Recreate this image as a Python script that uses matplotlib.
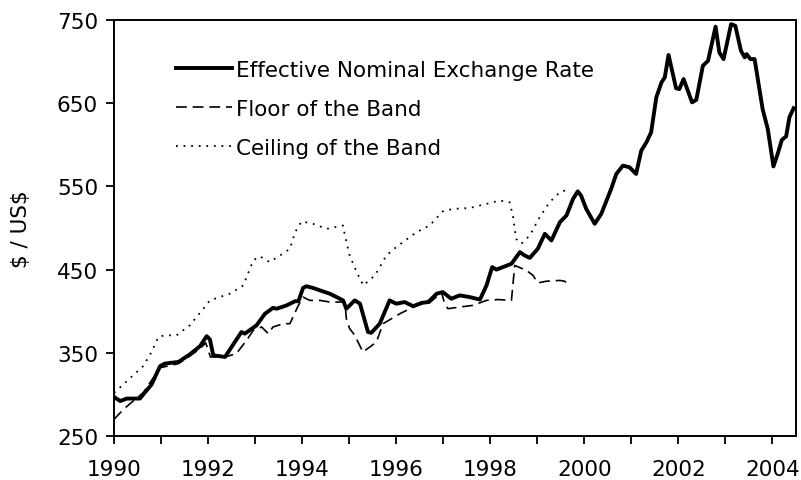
import numpy as np
import matplotlib
matplotlib.use('Agg')
import matplotlib.pyplot as plt

plt.rcParams['font.family'] = ['DejaVu Sans']

# effective nominal exchange rate (decimal year, $ per US$)
rate_t = [1990.0, 1990.13, 1990.27, 1990.55, 1990.8, 1990.98, 1991.08, 1991.37,
          1991.61, 1991.83, 1991.97, 1992.04, 1992.11, 1992.36, 1992.71, 1992.78,
          1993.03, 1993.21, 1993.38, 1993.46, 1993.67, 1993.85, 1993.92, 1994.02,
          1994.09, 1994.23, 1994.38, 1994.59, 1994.87, 1994.94, 1995.12, 1995.23,
          1995.40, 1995.47, 1995.65, 1995.86, 1996.0, 1996.18, 1996.36, 1996.54,
          1996.68, 1996.86, 1996.99, 1997.17, 1997.35, 1997.56, 1997.78, 1997.92,
          1998.04, 1998.13, 1998.27, 1998.45, 1998.63, 1998.73, 1998.84, 1999.01,
          1999.16, 1999.3, 1999.48, 1999.62, 1999.76, 1999.86, 1999.93, 2000.04,
          2000.22, 2000.36, 2000.57, 2000.68, 2000.82, 2000.96, 2001.1, 2001.21,
          2001.32, 2001.42, 2001.53, 2001.64, 2001.71, 2001.79, 2001.95, 2002.02,
          2002.11, 2002.29, 2002.38, 2002.52, 2002.63, 2002.79, 2002.87, 2002.96,
          2003.12, 2003.21, 2003.33, 2003.41, 2003.45, 2003.53, 2003.62, 2003.79,
          2003.9, 2004.02, 2004.11, 2004.2, 2004.29, 2004.36, 2004.45]
rate_v = [297, 292, 295, 295, 312, 334, 337, 339,
          348, 358, 370, 366, 347, 345, 375, 373,
          383, 397, 404, 403, 407, 412, 412, 428,
          430, 428, 425, 421, 413, 403, 413, 409,
          375, 374, 385, 413, 409, 411, 406, 410,
          411, 421, 423, 415, 419, 417, 414, 431,
          453, 450, 453, 457, 471, 467, 464, 475,
          493, 485, 507, 515, 535, 544, 539, 523,
          505, 517, 547, 565, 575, 573, 565, 593,
          603, 615, 657, 675, 681, 708, 668, 667,
          679, 651, 654, 695, 701, 742, 711, 703,
          745, 743, 713, 705, 709, 703, 703, 643,
          619, 574, 589, 606, 610, 633, 644]

# floor of the band
floor_t = [1990.0, 1990.2, 1990.45, 1990.62, 1990.98, 1991.37, 1991.61, 1991.83,
           1991.95, 1992.05, 1992.36, 1992.6, 1992.82, 1992.96, 1993.14, 1993.28,
           1993.38, 1993.6, 1993.74, 1993.92, 1994.02, 1994.16, 1994.38, 1994.59,
           1994.77, 1994.91, 1994.94, 1995.01, 1995.12, 1995.29, 1995.44, 1995.58,
           1995.72, 1995.9, 1996.08, 1996.29, 1996.5, 1996.71, 1996.89, 1996.96,
           1997.03, 1997.1, 1997.35, 1997.63, 1997.92, 1998.16, 1998.45, 1998.48,
           1998.52, 1998.77, 1998.91, 1999.01, 1999.19, 1999.48, 1999.58, 1999.69]
floor_v = [270, 282, 294, 302, 332, 337, 346, 355,
           362, 345, 345, 349, 365, 377, 381, 373,
           381, 385, 385, 407, 417, 413, 413, 411,
           411, 411, 391, 379, 371, 351, 357, 363,
           385, 391, 397, 403, 408, 410, 419, 423,
           409, 403, 405, 407, 413, 414, 413, 431,
           455, 449, 443, 434, 436, 437, 436, 432]

# ceiling of the band
ceil_t = [1990.0, 1990.2, 1990.37, 1990.62, 1990.8, 1990.94, 1991.08, 1991.33,
          1991.61, 1991.9, 1992.04, 1992.25, 1992.46, 1992.75, 1992.96, 1993.1,
          1993.31, 1993.53, 1993.74, 1993.85, 1993.99, 1994.23, 1994.52, 1994.87,
          1994.91, 1995.01, 1995.16, 1995.3, 1995.55, 1995.79, 1996.0, 1996.43,
          1996.71, 1996.99, 1997.21, 1997.56, 1997.92, 1998.2, 1998.41, 1998.48,
          1998.55, 1998.66, 1998.84, 1999.05, 1999.26, 1999.48, 1999.69]
ceil_v = [302, 312, 321, 334, 351, 369, 371, 371,
          383, 403, 413, 417, 421, 431, 461, 466,
          459, 467, 475, 495, 508, 505, 499, 503,
          491, 467, 447, 431, 443, 467, 477, 495,
          503, 520, 523, 524, 529, 533, 531, 515,
          487, 481, 491, 513, 531, 543, 547]

fig = plt.figure(figsize=(8.01, 4.81), dpi=100)
ax = fig.add_axes([114 / 801, 1 - 437 / 481, 682 / 801, 416 / 481])

ax.plot(rate_t, rate_v, color='black', lw=2.8, solid_joinstyle='round',
        label='Effective Nominal Exchange Rate')
ax.plot(floor_t, floor_v, color='black', lw=1.2, dashes=(6.5, 3.5),
        label='Floor of the Band')
ax.plot(ceil_t, ceil_v, color='black', lw=1.3, dashes=(1.0, 3.2),
        label='Ceiling of the Band')

ax.set_xlim(1990, 2004.5)
ax.set_ylim(250, 750)
ax.set_xticks(np.arange(1990, 2005, 2))
ax.set_xticks(np.arange(1991, 2005, 2), minor=True)
ax.set_yticks(np.arange(250, 751, 100))
ax.tick_params(axis='both', which='both', direction='out', length=5.5,
               width=1.3, labelsize=15.5)
ax.tick_params(axis='x', which='major', pad=11)
ax.tick_params(axis='y', pad=6)
for s in ax.spines.values():
    s.set_linewidth(1.4)
ax.set_ylabel(r'\$ / US\$', fontsize=15.5, labelpad=19)

ax.legend(loc='upper left', bbox_to_anchor=(0.078, 0.925), frameon=False,
          fontsize=15.5, handlelength=2.6, handletextpad=0.2,
          labelspacing=0.88, borderaxespad=0)

fig.savefig('out.png', dpi=100)
